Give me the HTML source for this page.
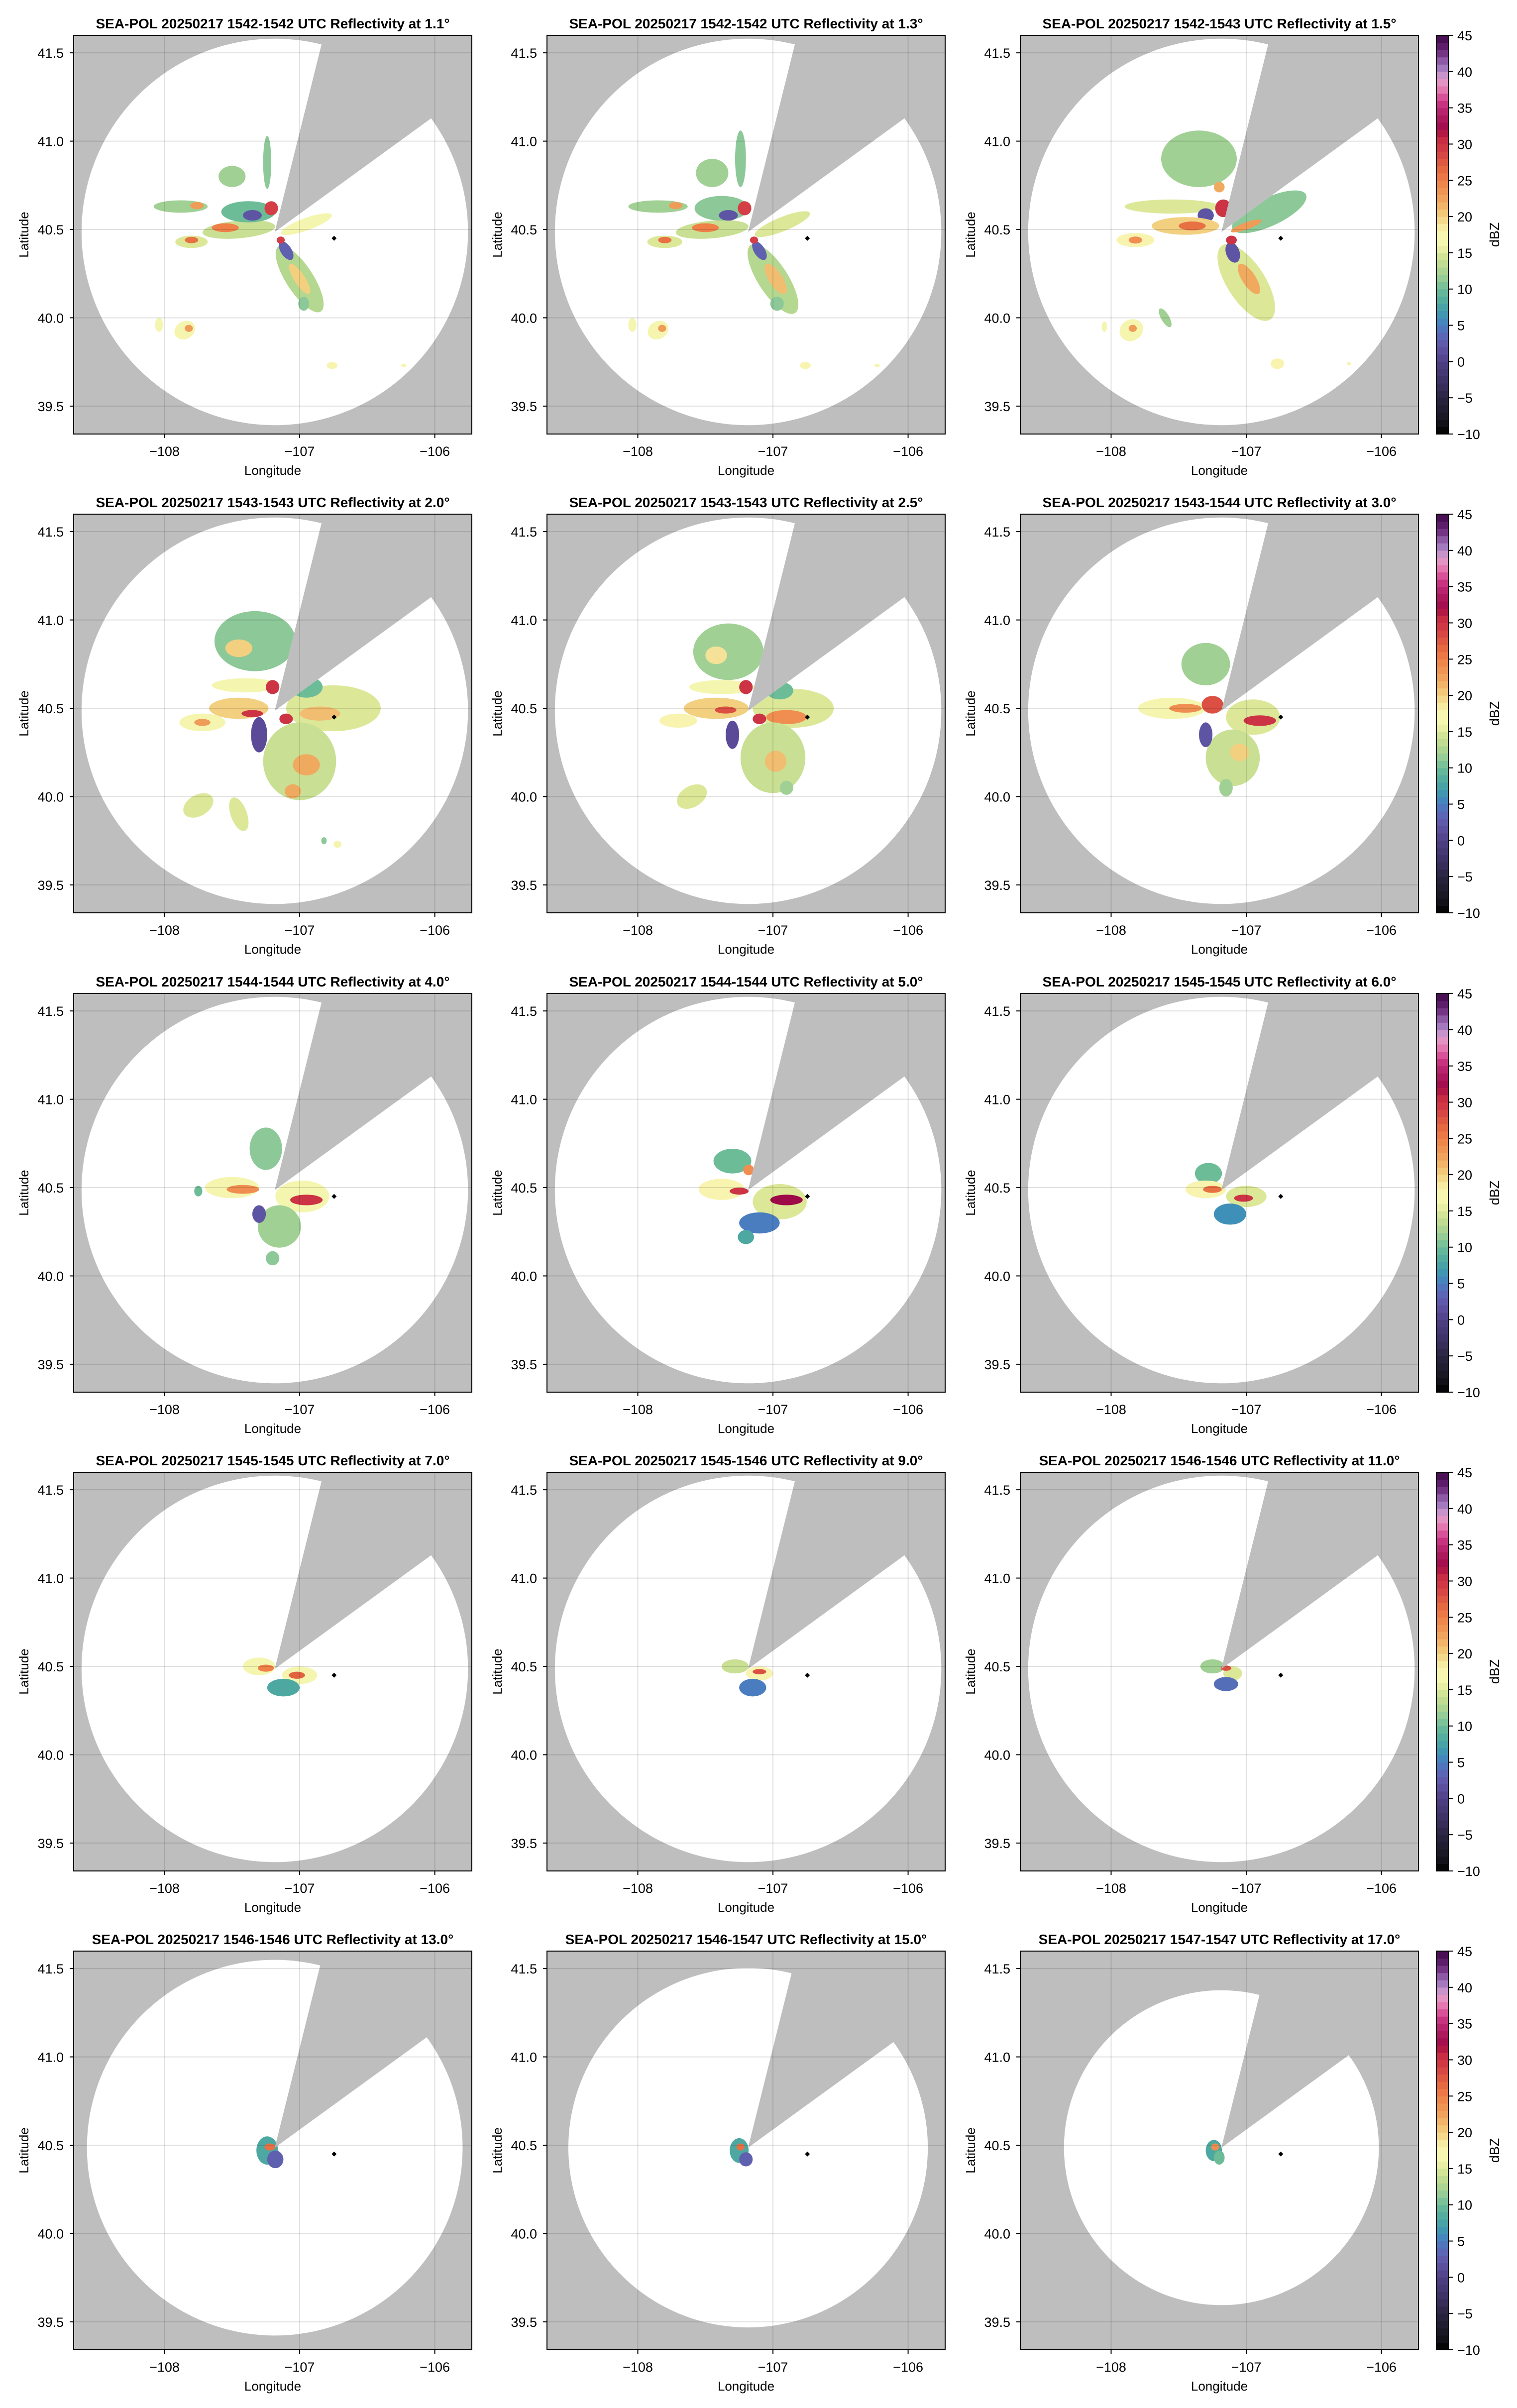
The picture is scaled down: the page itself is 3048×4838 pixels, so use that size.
<!DOCTYPE html>
<html><head><meta charset="utf-8">
<style>
html,body{margin:0;padding:0;background:#fff;}
svg{display:block;font-family:"Liberation Sans",Arial,sans-serif;}
</style></head>
<body>
<svg id="fig" width="3048" height="4838" viewBox="0 0 3048 4838" xmlns="http://www.w3.org/2000/svg">
<rect x="0" y="0" width="3048" height="4838" fill="#fff"/>
</svg>
<script>
// ---------- data ----------
const elevations = ["1.1","1.3","1.5","2.0","2.5","3.0","4.0","5.0","6.0","7.0","9.0","11.0","13.0","15.0","17.0"];
const timeRanges = ["1542-1542","1542-1542","1542-1543","1543-1543","1543-1543","1543-1544","1544-1544","1544-1544","1545-1545","1545-1545","1545-1546","1546-1546","1546-1546","1546-1547","1547-1547"];
const rangeRadiusDeg = [1.43,1.43,1.43,1.43,1.43,1.43,1.43,1.43,1.43,1.43,1.43,1.43,1.39,1.33,1.165];
const radarLon = -107.184, radarLat = 40.486;
const markerLon = -106.745, markerLat = 40.45;
const lonTicks = [-108,-107,-106];
const lonTickLabels = ["\u2212108","\u2212107","\u2212106"];
const latTicks = [41.5,41.0,40.5,40.0,39.5];
const latTickLabels = ["41.5","41.0","40.5","40.0","39.5"];
const cbTicks = [45,40,35,30,25,20,15,10,5,0,-5,-10];
const cbTickLabels = ["45","40","35","30","25","20","15","10","5","0","\u22125","\u221210"];
const cmapValues = [-10,-8,-5,-3,0,1,3,5,6,8,10,11,13,15,16,18,20,22,25,27,29,31,32,34,36,37,38,39,40,41,43,45];
const cmapColors = ["#000000","#181520","#2a2440","#3a3060","#504085","#5a4a98","#6060b0","#4a7cc0","#3f90b8","#4ca8a0","#6cbc98","#8cc898","#b5d890","#dce898","#f4f6b0","#f8f4b0","#f2d080","#f0aa60","#ee8048","#e2613f","#d33f45","#c52742","#9e0a48","#b01e64","#d03a8a","#e06aa8","#e685b5","#e0a0d0","#ad85c4","#9c6cb5","#682375","#3f0a4a"];
// echoes: [lon, lat, rLon, rLat, dBZ, rotationDeg]
const echoes_p1 = [[-107.88,40.63,0.2,0.035,12,0],[-107.76,40.635,0.05,0.02,23,0],[-107.45,40.5,0.27,0.05,14,-5],[-107.55,40.51,0.1,0.025,25,0],[-107.8,40.43,0.12,0.035,15,0],[-107.8,40.44,0.05,0.018,26,0],[-107.38,40.6,0.2,0.06,10,0],[-107.35,40.58,0.07,0.03,2,0],[-107.21,40.62,0.05,0.04,29,0],[-107.5,40.8,0.1,0.06,12,0],[-107.24,40.88,0.03,0.15,11,0],[-106.95,40.53,0.2,0.035,16,-20],[-107.0,40.22,0.1,0.22,13,-33],[-107.0,40.22,0.04,0.1,20,-33],[-107.1,40.38,0.04,0.06,3,-33],[-107.14,40.44,0.03,0.02,29,0],[-106.97,40.08,0.04,0.04,11,0],[-108.04,39.96,0.03,0.04,16,0],[-107.85,39.93,0.08,0.05,17,-30],[-107.82,39.94,0.03,0.02,23,0],[-106.76,39.73,0.04,0.02,18,0],[-106.23,39.73,0.02,0.01,17,0]];
const echoes_p2 = [[-107.85,40.63,0.22,0.035,12,0],[-107.72,40.635,0.05,0.02,23,0],[-107.45,40.5,0.27,0.05,14,-5],[-107.5,40.51,0.1,0.025,25,0],[-107.8,40.43,0.13,0.035,15,0],[-107.8,40.44,0.05,0.018,26,0],[-107.38,40.62,0.2,0.07,11,0],[-107.33,40.58,0.07,0.03,2,0],[-107.21,40.62,0.05,0.04,29,0],[-107.45,40.82,0.12,0.08,12,0],[-107.24,40.9,0.04,0.16,11,0],[-106.93,40.53,0.22,0.04,15,-22],[-107.0,40.22,0.11,0.23,13,-33],[-106.98,40.22,0.05,0.1,21,-33],[-107.1,40.38,0.04,0.06,3,-33],[-107.14,40.44,0.03,0.02,29,0],[-106.97,40.08,0.05,0.04,11,0],[-108.04,39.96,0.03,0.04,16,0],[-107.85,39.93,0.08,0.05,17,-30],[-107.82,39.94,0.03,0.02,23,0],[-106.76,39.73,0.04,0.02,18,0],[-106.23,39.73,0.02,0.01,17,0]];
const echoes_p3 = [[-107.35,40.9,0.28,0.16,12,0],[-107.2,40.74,0.04,0.03,22,0],[-107.55,40.63,0.35,0.04,15,0],[-107.17,40.62,0.06,0.05,30,0],[-107.3,40.58,0.06,0.04,2,0],[-107.45,40.52,0.25,0.05,20,0],[-107.4,40.52,0.1,0.025,26,0],[-107.82,40.44,0.14,0.04,18,0],[-107.82,40.44,0.05,0.02,24,0],[-106.83,40.6,0.3,0.08,11,-25],[-107.0,40.52,0.12,0.02,23,-20],[-107.0,40.2,0.14,0.25,15,-33],[-106.98,40.22,0.05,0.1,22,-33],[-107.1,40.37,0.05,0.06,2,-20],[-107.11,40.44,0.04,0.025,30,0],[-107.85,39.93,0.09,0.06,17,-30],[-107.84,39.94,0.03,0.02,23,0],[-107.6,40.0,0.03,0.06,12,-30],[-108.05,39.95,0.02,0.03,16,0],[-106.77,39.74,0.05,0.03,18,0],[-106.24,39.74,0.015,0.01,17,0]];
const echoes_p4 = [[-107.33,40.88,0.3,0.17,11,0],[-107.45,40.84,0.1,0.05,20,0],[-107.4,40.63,0.25,0.04,16,0],[-107.2,40.62,0.05,0.04,30,0],[-107.45,40.5,0.22,0.06,20,0],[-107.35,40.47,0.08,0.02,30,0],[-107.72,40.42,0.17,0.05,17,0],[-107.72,40.42,0.06,0.02,23,0],[-106.75,40.5,0.35,0.13,15,0],[-106.95,40.62,0.12,0.06,10,0],[-106.85,40.47,0.15,0.04,21,0],[-107.0,40.2,0.27,0.22,14,0],[-106.95,40.18,0.1,0.06,22,0],[-107.05,40.03,0.06,0.04,22,0],[-107.1,40.44,0.05,0.03,30,0],[-107.3,40.35,0.06,0.1,1,0],[-107.75,39.95,0.12,0.06,15,-30],[-107.45,39.9,0.06,0.1,15,-20],[-106.72,39.73,0.03,0.02,17,0],[-106.82,39.75,0.02,0.02,11,0]];
const echoes_p5 = [[-107.33,40.82,0.26,0.16,12,0],[-107.42,40.8,0.08,0.05,19,0],[-107.38,40.62,0.24,0.04,16,0],[-107.2,40.62,0.05,0.04,30,0],[-107.42,40.5,0.24,0.06,20,0],[-107.35,40.49,0.08,0.02,28,0],[-107.7,40.43,0.14,0.04,18,0],[-106.85,40.5,0.3,0.11,15,0],[-106.9,40.45,0.15,0.04,24,0],[-106.95,40.6,0.1,0.05,10,0],[-107.0,40.22,0.24,0.2,14,0],[-106.98,40.2,0.08,0.06,21,0],[-107.1,40.44,0.05,0.03,30,0],[-107.3,40.35,0.05,0.08,1,0],[-107.6,40.0,0.12,0.06,15,-30],[-106.9,40.05,0.05,0.04,12,0]];
const echoes_p6 = [[-107.3,40.75,0.18,0.12,12,0],[-107.55,40.5,0.25,0.06,17,0],[-107.45,40.5,0.12,0.025,24,0],[-107.25,40.52,0.08,0.05,28,0],[-106.95,40.45,0.2,0.1,15,0],[-106.9,40.43,0.12,0.03,30,0],[-107.1,40.22,0.2,0.16,14,0],[-107.05,40.25,0.07,0.05,20,0],[-107.3,40.35,0.05,0.07,2,0],[-107.15,40.05,0.05,0.05,12,0]];
const echoes_p7 = [[-107.25,40.72,0.12,0.12,11,0],[-107.5,40.5,0.2,0.06,17,0],[-107.42,40.49,0.12,0.025,24,0],[-106.98,40.45,0.2,0.09,16,0],[-106.95,40.43,0.12,0.03,30,0],[-107.15,40.28,0.16,0.12,12,0],[-107.3,40.35,0.05,0.05,2,0],[-107.2,40.1,0.05,0.04,11,0],[-107.75,40.48,0.03,0.03,10,0]];
const echoes_p8 = [[-107.3,40.65,0.14,0.07,10,0],[-107.18,40.6,0.04,0.03,24,0],[-107.38,40.49,0.17,0.06,18,0],[-107.25,40.48,0.07,0.02,30,0],[-106.95,40.42,0.2,0.1,15,0],[-106.9,40.43,0.12,0.03,32,0],[-107.1,40.3,0.15,0.06,5,0],[-107.2,40.22,0.06,0.04,8,0]];
const echoes_p9 = [[-107.28,40.58,0.1,0.06,10,0],[-107.3,40.49,0.15,0.05,18,0],[-107.25,40.49,0.07,0.02,26,0],[-107.0,40.45,0.15,0.06,15,0],[-107.02,40.44,0.07,0.02,30,0],[-107.12,40.35,0.12,0.06,6,0]];
const echoes_p10 = [[-107.3,40.5,0.12,0.05,16,0],[-107.25,40.49,0.06,0.02,25,0],[-107.0,40.45,0.13,0.05,16,0],[-107.02,40.45,0.06,0.02,27,0],[-107.12,40.38,0.12,0.05,8,0]];
const echoes_p11 = [[-107.28,40.5,0.1,0.04,14,0],[-107.1,40.46,0.1,0.04,18,0],[-107.1,40.47,0.05,0.015,28,0],[-107.15,40.38,0.1,0.05,5,0]];
const echoes_p12 = [[-107.25,40.5,0.09,0.04,12,0],[-107.1,40.46,0.07,0.04,15,0],[-107.15,40.49,0.04,0.015,28,0],[-107.15,40.4,0.09,0.04,4,0]];
const echoes_p13 = [[-107.24,40.47,0.08,0.08,8,0],[-107.22,40.49,0.04,0.02,26,0],[-107.18,40.42,0.06,0.05,3,0]];
const echoes_p14 = [[-107.25,40.47,0.07,0.07,8,0],[-107.24,40.49,0.03,0.02,26,0],[-107.2,40.42,0.05,0.04,3,0]];
const echoes_p15 = [[-107.24,40.47,0.06,0.06,8,0],[-107.23,40.49,0.03,0.02,24,0],[-107.2,40.43,0.04,0.04,10,0]];
const allEchoes = [echoes_p1,echoes_p2,echoes_p3,echoes_p4,echoes_p5,echoes_p6,echoes_p7,echoes_p8,echoes_p9,echoes_p10,echoes_p11,echoes_p12,echoes_p13,echoes_p14,echoes_p15];

// ---------- layout ----------
const NS = "http://www.w3.org/2000/svg";
const svg = document.getElementById("fig");
const colX = [148,1099,2050];
const rowY = [71,1033,1996,2958,3920];
const AW = 800, AH = 801;
const lonMin = -108.672, lonMax = -105.726, latMin = 39.342, latMax = 41.599;
const gapA = 14, gapB = 54;

function mk(tag, attrs, parent){ const e = document.createElementNS(NS, tag); for (const k in attrs) e.setAttribute(k, attrs[k]); (parent||svg).appendChild(e); return e; }
function hex2rgb(h){ return [parseInt(h.slice(1,3),16),parseInt(h.slice(3,5),16),parseInt(h.slice(5,7),16)]; }
function cmap(v){
  v = Math.max(-10, Math.min(45, v));
  for (let i=0;i<cmapValues.length-1;i++){
    if (v <= cmapValues[i+1]){
      const t = (v-cmapValues[i])/(cmapValues[i+1]-cmapValues[i]);
      const a = hex2rgb(cmapColors[i]), b = hex2rgb(cmapColors[i+1]);
      return "rgb("+a.map((x,j)=>Math.round(x+(b[j]-x)*t)).join(",")+")";
    }
  }
  return cmapColors[cmapColors.length-1];
}

for (let p=0;p<15;p++){
  const c = p%3, r = Math.floor(p/3);
  const ax = colX[c], ay = rowY[r];
  const xS = lon => ax + (lon-lonMin)/(lonMax-lonMin)*AW;
  const yS = lat => ay + (latMax-lat)/(latMax-latMin)*AH;
  const pxLat = AH/(latMax-latMin);
  const g = mk("g", {});
  
  

  const t = mk("text", {x: ax+AW/2, y: ay-14, "text-anchor":"middle", "font-size":"28", "font-weight":"bold", fill:"#000"}, g);
  t.textContent = "SEA-POL 20250217 "+timeRanges[p]+" UTC Reflectivity at "+elevations[p]+"\u00b0";
  
  

  const bg = mk("rect", {x:ax, y:ay, width:AW, height:AH, fill:"#bebebe"}, g);
  
  

  const cx = xS(radarLon), cy = yS(radarLat), R = rangeRadiusDeg[p]*271.5;
  const pt = b => [cx + R*Math.sin(b*Math.PI/180), cy - R*Math.cos(b*Math.PI/180)];
  const s = pt(gapB), e = pt(gapA);
  const dPath = `M${cx},${cy} L${s[0]},${s[1]} A${R},${R} 0 1 1 ${e[0]},${e[1]} Z`;
  const clipId = "clip"+p;
  const cp = mk("clipPath", {id:clipId}, g);
  mk("path", {d:dPath}, cp);
  const cov = mk("path", {d:dPath, fill:"#fff"}, g);
  
  

  const eg = mk("g", {"clip-path":"url(#"+clipId+")"}, g);
  
  
  allEchoes[p].forEach(d => {
    const ex = xS(d[0]), ey = yS(d[1]);
    const rx = d[2]*271.5, ry = d[3]*pxLat;
    const el = mk("ellipse", {cx:ex, cy:ey, rx:rx, ry:ry, fill:cmap(d[4]), transform:`rotate(${d[5]} ${ex} ${ey})`}, eg);
    
    
  });

  lonTicks.forEach(v => { mk("line", {x1:xS(v), x2:xS(v), y1:ay, y2:ay+AH, stroke:"rgba(0,0,0,0.12)", "stroke-width":2}, g); });
  latTicks.forEach(v => { mk("line", {x1:ax, x2:ax+AW, y1:yS(v), y2:yS(v), stroke:"rgba(0,0,0,0.12)", "stroke-width":2}, g); });

  const mx = xS(markerLon), my = yS(markerLat);
  const mkr = mk("path", {d:`M${mx},${my-5} L${mx+5},${my} L${mx},${my+5} L${mx-5},${my} Z`, fill:"#000"}, g);
  
  

  const fr = mk("rect", {x:ax, y:ay, width:AW, height:AH, fill:"none", stroke:"#000", "stroke-width":2}, g);
  
  

  lonTicks.forEach((v,i) => {
    mk("line", {x1:xS(v), x2:xS(v), y1:ay+AH, y2:ay+AH+8, stroke:"#000", "stroke-width":2}, g);
    const tl = mk("text", {x:xS(v), y:ay+AH+44, "text-anchor":"middle", "font-size":"27", fill:"#000"}, g);
    tl.textContent = lonTickLabels[i];
    
    
  });
  latTicks.forEach((v,i) => {
    mk("line", {x1:ax-8, x2:ax, y1:yS(v), y2:yS(v), stroke:"#000", "stroke-width":2}, g);
    const tl = mk("text", {x:ax-20, y:yS(v)+10, "text-anchor":"end", "font-size":"27", fill:"#000"}, g);
    tl.textContent = latTickLabels[i];
    
    
  });
  const xl = mk("text", {x:ax+AW/2, y:ay+AH+82, "text-anchor":"middle", "font-size":"26", fill:"#000"}, g);
  xl.textContent = "Longitude";
  
  
  const yl = mk("text", {x:0, y:0, "text-anchor":"middle", "font-size":"26", fill:"#000", transform:`translate(${ax-91},${ay+AH/2}) rotate(-90)`}, g);
  yl.textContent = "Latitude";
  
  

  if (c === 2){
    const cbx = 2886, cbw = 24;
    const cg = mk("g", {}, g);
    
    
    const vy = v => ay + (45-v)/55*AH;
    for (let v=-10; v<45; v++){
      mk("rect", {x:cbx, y:vy(v+1), width:cbw, height:vy(v)-vy(v+1)+0.6, fill:cmap(v+0.5)}, cg);
    }
    mk("rect", {x:cbx, y:ay, width:cbw, height:AH, fill:"none", stroke:"#000", "stroke-width":2}, cg);
    cbTicks.forEach((v,i) => {
      mk("line", {x1:cbx+cbw, x2:cbx+cbw+10, y1:vy(v), y2:vy(v), stroke:"#000", "stroke-width":2}, cg);
      const tl = mk("text", {x:cbx+cbw+18, y:vy(v)+10, "font-size":"27", fill:"#000"}, cg);
      tl.textContent = cbTickLabels[i];
      
      
    });
    const cl = mk("text", {x:0, y:0, "text-anchor":"middle", "font-size":"27", fill:"#000", transform:`translate(3012,${ay+AH/2}) rotate(-90)`}, cg);
    cl.textContent = "dBZ";
    
    
  }
}
</script>
</body></html>
